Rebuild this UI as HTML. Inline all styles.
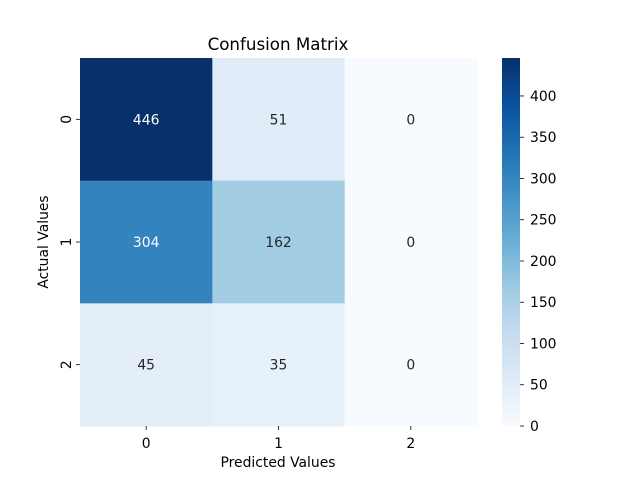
<!DOCTYPE html>
<html><head><meta charset="utf-8"><style>
body{margin:0;background:#fff;font-family:"DejaVu Sans","Liberation Sans",sans-serif}
svg text{font-family:"DejaVu Sans","Liberation Sans",sans-serif}
</style></head><body>
<svg id="chart" width="640" height="480" xmlns="http://www.w3.org/2000/svg">
<defs><linearGradient id="cbg" x1="0" y1="1" x2="0" y2="0">
<stop offset="0" stop-color="#f7fbff"/><stop offset="0.125" stop-color="#deebf7"/><stop offset="0.25" stop-color="#c6dbef"/><stop offset="0.375" stop-color="#9ecae1"/><stop offset="0.5" stop-color="#6baed6"/><stop offset="0.625" stop-color="#4292c6"/><stop offset="0.75" stop-color="#2171b5"/><stop offset="0.875" stop-color="#08519c"/><stop offset="1" stop-color="#08306b"/>
</linearGradient></defs>
<text x="278" y="50" text-anchor="middle" font-size="16.7" fill="#000">Confusion Matrix</text>
<g id="cells"></g>
<g id="axes"></g>
<rect x="502" y="58" width="18" height="368" fill="url(#cbg)"/>
<g id="cbticks"></g>
<text x="278" y="467" text-anchor="middle" font-size="13.9">Predicted Values</text>
<text transform="translate(48,242) rotate(-90)" text-anchor="middle" font-size="13.9">Actual Values</text>
</svg>
<script>
const rowLabels = ["0","1","2"];
const colLabels = ["0","1","2"];
const row0 = [446, 51, 0];
const row1 = [304, 162, 0];
const row2 = [45, 35, 0];
const cbTicks = [0,50,100,150,200,250,300,350,400];
const vmin = 0, vmax = 446;
const rows = [row0,row1,row2];
const L=80,R=477,T=58,B=426;
const cw=(R-L)/colLabels.length, ch=(B-T)/rowLabels.length;
const stops=["#f7fbff","#deebf7","#c6dbef","#9ecae1","#6baed6","#4292c6","#2171b5","#08519c","#08306b"];
function hex(h){return [1,3,5].map(i=>parseInt(h.substr(i,2),16));}
function cmap(v){let t=(v-vmin)/(vmax-vmin);t=Math.max(0,Math.min(1,t));const p=t*8,i=Math.min(7,Math.floor(p)),f=p-i;const a=hex(stops[i]),b=hex(stops[i+1]);return a.map((x,k)=>Math.round(x+(b[k]-x)*f));}
function lum(c){const l=c.map(x=>{x/=255;return x<=0.03928?x/12.92:Math.pow((x+0.055)/1.055,2.4)});return 0.2126*l[0]+0.7152*l[1]+0.0722*l[2];}
const NS="http://www.w3.org/2000/svg";
const cells=document.getElementById('cells'),axes=document.getElementById('axes'),cbt=document.getElementById('cbticks');
function mk(tag,attrs,parent){const e=document.createElementNS(NS,tag);for(const k in attrs)e.setAttribute(k,attrs[k]);parent.appendChild(e);return e;}
rows.forEach((r,i)=>r.forEach((v,j)=>{
 const c=cmap(v);
 const rect=mk('rect',{x:L+j*cw,y:T+i*ch,width:cw+0.5,height:ch+0.5,fill:`rgb(${c})`},cells);
 
 
 const t=mk('text',{x:L+(j+0.5)*cw,y:T+(i+0.5)*ch+5,'text-anchor':'middle','font-size':13.9,fill:lum(c)>0.408?'#262626':'#ffffff'},cells);
 t.textContent=v;
 
 
}));
colLabels.forEach((l,j)=>{
 const x=L+(j+0.5)*cw;
 mk('line',{x1:x,x2:x,y1:B,y2:B+4,stroke:'#000','stroke-width':0.8},axes);
 const t=mk('text',{x:x,y:B+22,'text-anchor':'middle','font-size':13.9},axes);t.textContent=l;
 
 
});
rowLabels.forEach((l,i)=>{
 const y=T+(i+0.5)*ch;
 mk('line',{x1:L-4,x2:L,y1:y,y2:y,stroke:'#000','stroke-width':0.8},axes);
 const t=mk('text',{transform:`translate(${L-9},${y}) rotate(-90)`,'text-anchor':'middle','font-size':13.9},axes);t.textContent=l;
 
 
});
cbTicks.forEach(v=>{
 const y=B-(v-vmin)/(vmax-vmin)*(B-T);
 mk('line',{x1:520,x2:524,y1:y,y2:y,stroke:'#000','stroke-width':0.8},cbt);
 const t=mk('text',{x:530,y:y+5,'font-size':13.9},cbt);t.textContent=v;
 
 
});
</script>
</body></html>
